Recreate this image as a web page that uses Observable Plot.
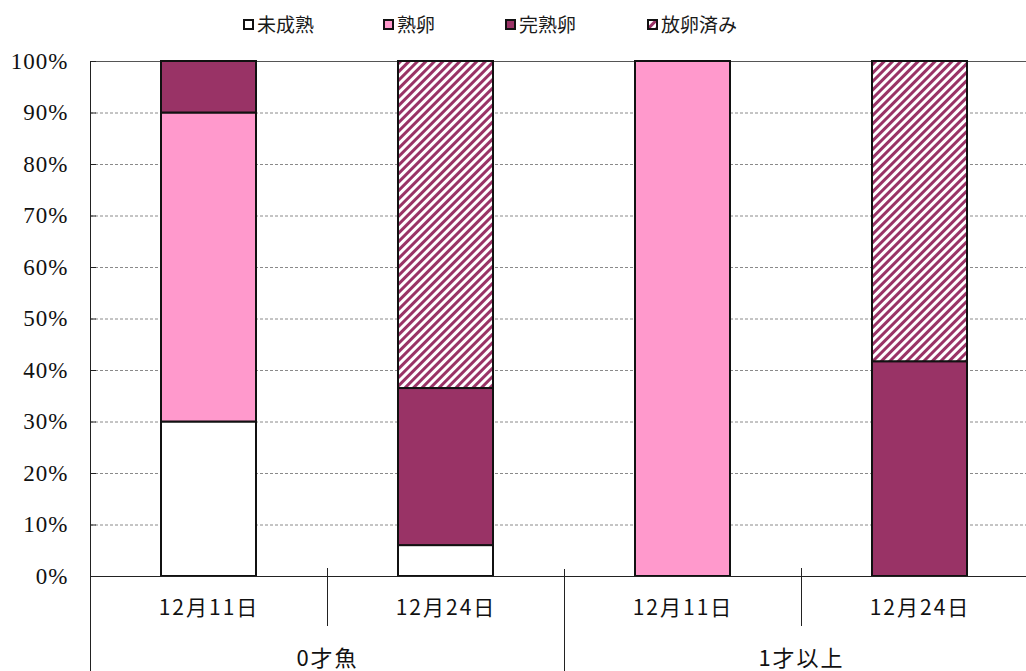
<!DOCTYPE html>
<html><head><meta charset="utf-8">
<script src="https://cdn.jsdelivr.net/npm/d3@7"></script>
<script src="https://cdn.jsdelivr.net/npm/@observablehq/plot@0.6"></script>
<style>
html,body{margin:0;padding:0;background:#fff;overflow:hidden;width:1026px;height:671px}
#legend{position:relative;height:44px;font-family:"Noto Sans CJK JP",sans-serif;font-size:19px;color:#1a1a1a}
.item{position:absolute;top:10px;display:flex;align-items:center;white-space:nowrap;line-height:28px}
.item svg{margin-right:3px;display:block}
#chart svg{display:block}
</style></head><body>
<div id="legend"></div>
<div id="chart"></div>
<script>
// ---- data ----
const groups = ["0才魚", "0才魚", "1才以上", "1才以上"];
const dates = ["12月11日", "12月24日", "12月11日", "12月24日"];
const stages = ["未成熟", "熟卵", "完熟卵", "放卵済み"];
const immature = [30, 6, 0, 0];
const ripe = [60, 0, 100, 0];
const fullyRipe = [10, 30.5, 0, 41.7];
const spawned = [0, 63.5, 0, 58.3];
const stageColors = ["#ffffff", "#ff99cc", "#993366", "url(#hatch)"];
const yTicks = [0, 10, 20, 30, 40, 50, 60, 70, 80, 90, 100];
const legendLeft = [243, 383, 505, 647];

// ---- build table ----
const keys = groups.map((g, i) => g + "|" + dates[i]);
const series = [immature, ripe, fullyRipe, spawned];
const rows = [];
keys.forEach((k, i) => {
  stages.forEach((s, j) => {
    if (series[j][i] > 0) rows.push({key: k, stage: s, value: series[j][i]});
  });
});
const groupFirstKeys = keys.filter((k, i) => i === 0 || groups[i] !== groups[i - 1]);
const groupLabel = k => k.split("|")[0];
const innerSeps = keys.filter((k, i) => i < keys.length - 1 && groups[i] === groups[i + 1]);
const groupSeps = keys.filter((k, i) => i < keys.length - 1 && groups[i] !== groups[i + 1]);

// ---- legend ----
const legend = document.getElementById("legend");
stages.forEach((s, i) => {
  const div = document.createElement("div");
  div.className = "item";
  div.style.left = legendLeft[i] + "px";
  div.innerHTML = `<svg width="11" height="11"><rect x="1" y="1" width="9" height="9" fill="${stageColors[i]}" stroke="#111" stroke-width="2"/></svg><span>${s}</span>`;
  legend.appendChild(div);
});

// ---- chart ----
const step = (1038 - 90) / keys.length;
const jp = '"Noto Sans CJK JP", sans-serif';
const chart = Plot.plot({
  width: 1026,
  height: 627,
  marginTop: 17,
  marginBottom: 95,
  marginLeft: 90,
  marginRight: 0,
  style: {background: "#fff"},
  x: {domain: keys, range: [90, 1038], paddingInner: 0.6, paddingOuter: 0.3},
  y: {domain: [0, 100], range: [532, 17]},
  color: {domain: stages, range: stageColors},
  marks: [
    Plot.gridY(yTicks.filter(d => d > 0 && d < 100), {stroke: "#8a8a8a", strokeOpacity: 1, strokeDasharray: "3,2"}),
    Plot.ruleY([100], {stroke: "#555"}),
    Plot.barY(rows, {x: "key", y: "value", fill: "stage", stroke: "#111", strokeWidth: 2}),
    Plot.ruleY([0], {stroke: "#222"}),
    Plot.frame({anchor: "left", stroke: "#222", insetBottom: -95}),
    Plot.ruleX(innerSeps, {x: d => d, dx: step / 2, y1: 0, y2: 0, insetTop: -8, insetBottom: -50, stroke: "#222"}),
    Plot.ruleX(groupSeps, {x: d => d, dx: step / 2, y1: 0, y2: 0, insetTop: -7, insetBottom: -95, stroke: "#222"}),
    Plot.axisY(yTicks, {tickSize: -6, tickPadding: 28, tickFormat: d => d + "%", fontSize: 23, fontFamily: "Liberation Serif", fill: "#111", stroke: "#222", label: null, className: "yax"}),
    Plot.axisX([], {label: null}),
    Plot.text(keys, {x: d => d, y: 0, dy: 32, text: d => d.split("|")[1], fontSize: 21, fontFamily: jp, fill: "#111", lineAnchor: "middle", className: "dlab"}),
    Plot.text(groupFirstKeys, {x: d => d, y: 0, dx: step / 2, dy: 82, text: groupLabel, fontSize: 22, fontFamily: jp, fill: "#111", lineAnchor: "middle", className: "glab"})
  ]
});
d3.select(chart).insert("defs", ":first-child").html(
  `<pattern id="hatch" patternUnits="userSpaceOnUse" width="6" height="6" patternTransform="rotate(45)">
     <rect width="6" height="6" fill="#fff"/><rect width="3" height="6" fill="#993366"/>
   </pattern>`);
d3.select(chart).selectAll(".dlab text").style("letter-spacing", "2px");
d3.select(chart).selectAll(".glab text").style("letter-spacing", "2px");
d3.select(chart).selectAll(".yax text").style("letter-spacing", "1px");
document.getElementById("chart").appendChild(chart);
</script>
</body></html>
